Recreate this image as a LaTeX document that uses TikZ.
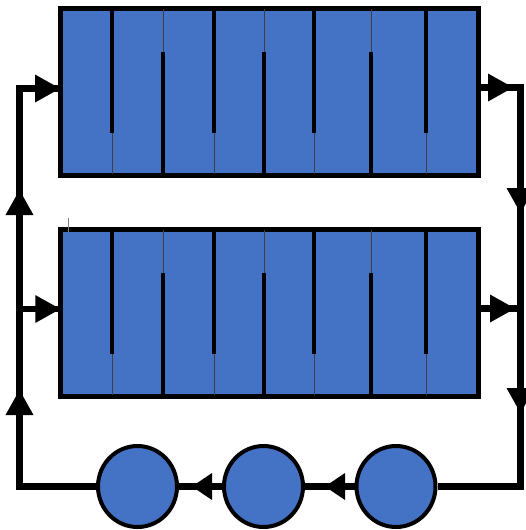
\documentclass[tikz,border=0pt]{standalone}
\usetikzlibrary{arrows.meta,shapes.geometric}
\definecolor{fillblue}{HTML}{4472C4}
\tikzset{
  box/.style={draw=black, line width=5pt, fill=fillblue, minimum width=418.5pt, minimum height=167pt, inner sep=0pt, outer sep=0pt},
  unit/.style={ellipse, draw=black, line width=4pt, fill=fillblue, minimum width=79pt, minimum height=81pt, inner sep=0pt},
  conn/.style={line width=6.5pt, line join=miter},
  bigtip/.style={line width=6.5pt, -{Triangle[length=25pt,width=28pt,line width=0pt]}},
  smalltip/.style={line width=6.5pt, -{Triangle[length=20pt,width=27pt,line width=0pt]}},
  thickdiv/.style={line width=3.2pt, draw=black},
  thindiv/.style={line width=1pt, draw=black!75},
}
\begin{document}
\begin{tikzpicture}[x=1pt,y=-1pt]
\useasboundingbox (0,0) rectangle (526,530);
% tanks
\node[box] (T) at (269.25,92) {};
\node[box] (B) at (269.5,312.75) {};
% dividers top
\foreach \x in {112,214,314,426} {
  \draw[thickdiv] (\x,9) -- (\x,133);
  \draw[thindiv] (\x,133) -- (\x,174);
}
\foreach \x in {163,264,371} {
  \draw[thindiv] (\x,9) -- (\x,52);
  \draw[thickdiv] (\x,52) -- (\x,174);
}
% dividers bottom
\foreach \x in {112,214,314,426} {
  \draw[thickdiv] (\x,230) -- (\x,354);
  \draw[thindiv] (\x,354) -- (\x,395);
}
\foreach \x in {163,264,371} {
  \draw[thindiv] (\x,230) -- (\x,273);
  \draw[thickdiv] (\x,273) -- (\x,395);
}
\draw[gray, line width=0.6pt] (68,218) -- (68,232);
% circles
\node[unit] (c1) at (137.5,486.5) {};
\node[unit] (c2) at (263.5,486.5) {};
\node[unit] (c3) at (396,486.5) {};
% coordinates
\coordinate (LT) at (19.5,88.5);
\coordinate (LM) at (19.5,309);
\coordinate (RT) at (520.5,87.5);
\coordinate (RM) at (520.5,308.5);
\coordinate (RTa) at (513,87.5);
\coordinate (RMa) at (515,308.5);
\coordinate (LA1) at (19.5,190);
\coordinate (LA1s) at (19.5,230);
\coordinate (LA2) at (19.5,390);
\coordinate (LA2s) at (19.5,430);
\coordinate (RA1) at (520.5,213);
\coordinate (RA1s) at (520.5,170);
\coordinate (RA2) at (520.5,413);
\coordinate (RA2s) at (520.5,370);
\coordinate (BA1) at (325,486.5);
\coordinate (BA2) at (192,486.5);
% left loop
\draw[conn] (c1.west) -| (LT) -- (LT -| T.west);
\draw[bigtip] (LT) -- (LT -| T.west);
\draw[conn] (LM) -- (LM -| B.west);
\draw[bigtip] (LM) -- (LM -| B.west);
\draw[bigtip] (LA1s) -- (LA1);
\draw[bigtip] (LA2s) -- (LA2);
% right loop
\draw[conn] (T.east |- RT) -- (RT) |- (c3.east);
\draw[bigtip] (T.east |- RT) -- (RTa);
\draw[conn] (B.east |- RM) -- (RM);
\draw[bigtip] (B.east |- RM) -- (RMa);
\draw[bigtip] (RA1s) -- (RA1);
\draw[bigtip] (RA2s) -- (RA2);
% bottom chain
\draw[conn] (c3.west) -- (c2.east);
\draw[smalltip] (c3.west) -- (BA1);
\draw[conn] (c2.west) -- (c1.east);
\draw[smalltip] (c2.west) -- (BA2);
\end{tikzpicture}
\end{document}
